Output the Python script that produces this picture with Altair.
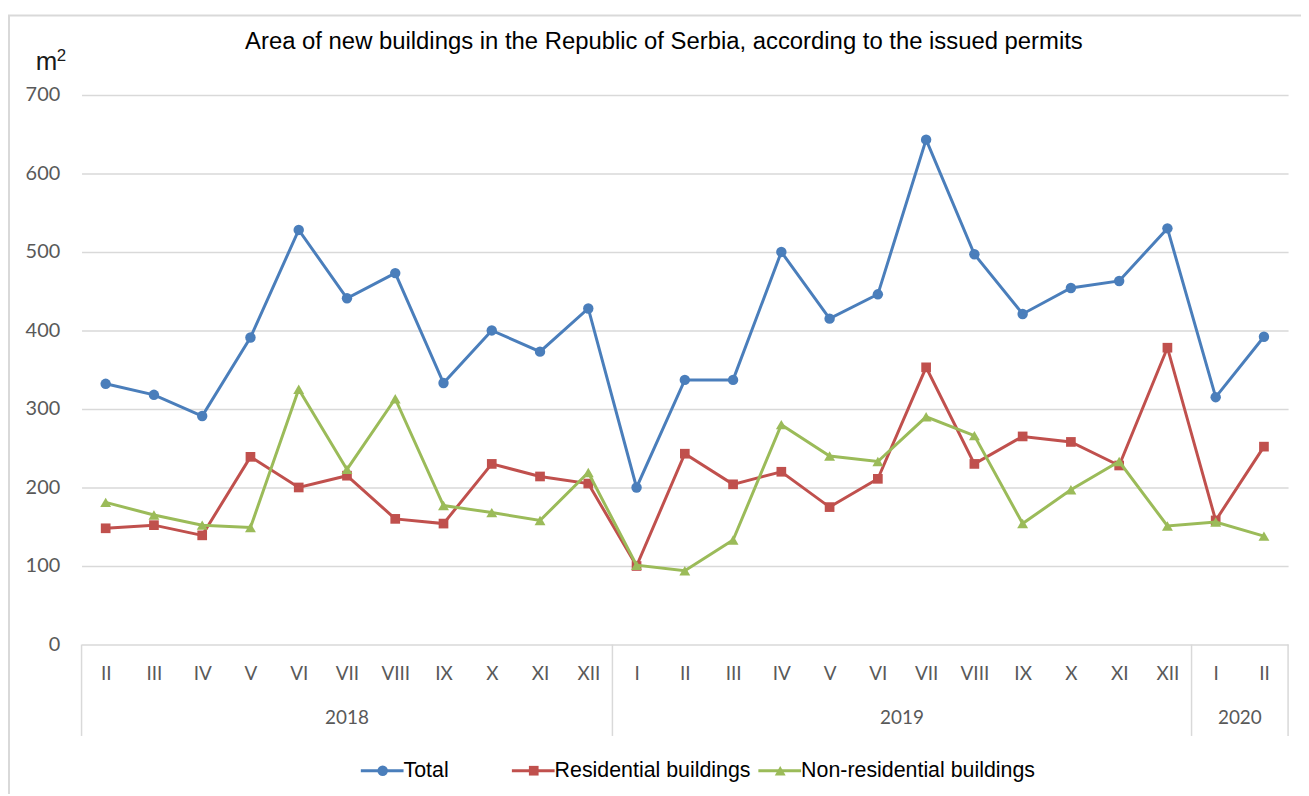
import altair as alt
import pandas as pd

# ---------------- data ----------------
months = ["II", "III", "IV", "V", "VI", "VII", "VIII", "IX", "X", "XI", "XII",
          "I", "II", "III", "IV", "V", "VI", "VII", "VIII", "IX", "X", "XI", "XII",
          "I", "II"]
years = ["2018"] * 11 + ["2019"] * 12 + ["2020"] * 2
series_names = ["Total", "Residential buildings", "Non-residential buildings"]
total = [332, 318, 291, 391, 528, 441, 473, 333, 400, 373, 428,
         200, 337, 337, 500, 415, 446, 643, 497, 421, 454, 463, 530,
         315, 392]
residential = [148, 152, 139, 239, 200, 215, 160, 154, 230, 214, 205,
               100, 243, 204, 220, 175, 211, 353, 230, 265, 258, 228, 378,
               158, 252]
non_residential = [181, 165, 152, 149, 325, 223, 313, 177, 168, 158, 219,
                   101, 94, 133, 280, 240, 233, 290, 266, 154, 197, 233, 151,
                   156, 138]
y_ticks = [0, 100, 200, 300, 400, 500, 600, 700]
title_text = "Area of new buildings in the Republic of Serbia, according to the issued permits"
unit_base = "m"
unit_sup = "2"

# ---------------- styles ----------------
colors = ["#4A7EBB", "#C0504D", "#9BBB59"]
shapes = ["circle", "square", "triangle-up"]
sizes = [110, 95, 120]
W, H = 1214, 553
FONT = "Liberation Sans"
LFONT = "Lato"
GRAY = "#595959"
GRID = "#D9D9D9"

rows = []
for s, vals in zip(series_names, [total, residential, non_residential]):
    for i, v in enumerate(vals):
        rows.append({"idx": i, "month": months[i], "year": years[i], "series": s, "value": v})
df = pd.DataFrame(rows)

label_expr = "[" + ",".join("'%s'" % m for m in months) + "][datum.value]"
x_scale = alt.Scale(domain=[-0.5, len(months) - 0.5], nice=False, zero=False)

x_enc = alt.X("idx:Q", scale=x_scale,
              axis=alt.Axis(values=list(range(len(months))), labelExpr=label_expr,
                            grid=False, ticks=False, domain=False, title=None,
                            labelFont=LFONT, labelFontSize=19, labelColor=GRAY,
                            labelPadding=20, labelFlush=False, labelOverlap=False))
y_enc = alt.Y("value:Q",
              scale=alt.Scale(domain=[0, 700], nice=False),
              axis=alt.Axis(values=y_ticks, grid=True, gridColor=GRID, gridWidth=1.5,
                            domain=False, ticks=False, title=None,
                            labelFont=LFONT, labelFontSize=20, labelColor=GRAY,
                            labelPadding=22))

one = pd.DataFrame({"k": [0]})

border = alt.Chart(one).mark_rect(fillOpacity=0, stroke=GRID, strokeWidth=2).encode(
    x=alt.value(-73), x2=alt.value(W + 60), y=alt.value(-80), y2=alt.value(H + 250))

base_axes = alt.Chart(df).mark_point(opacity=0).encode(x=x_enc, y=y_enc)

# year group labels and separators
ydf = df[df.series == series_names[0]].groupby("year", as_index=False).agg(
    center=("idx", "mean"), last=("idx", "max"))
sep_vals = [-0.5] + [v + 0.5 for v in ydf["last"].tolist()]
sep_df = pd.DataFrame({"b": sep_vals})

separators = alt.Chart(sep_df).mark_rule(color=GRID, strokeWidth=1.5).encode(
    x=alt.X("b:Q", scale=x_scale), y=alt.value(H), y2=alt.value(H + 92))

year_labels = alt.Chart(ydf).mark_text(font=LFONT, fontSize=19, color=GRAY,
                                        baseline="middle", align="center").encode(
    x=alt.X("center:Q", scale=x_scale), y=alt.value(H + 74), text="year:N")

title = alt.Chart(pd.DataFrame({"t": [title_text]})).mark_text(
    font=FONT, fontSize=24, color="#000000", align="center", baseline="middle").encode(
    x=alt.value(586), y=alt.value(-53), text="t:N")

unit_m = alt.Chart(pd.DataFrame({"t": [unit_base]})).mark_text(
    font=FONT, fontSize=26, color="#1a1a1a", align="left", baseline="alphabetic").encode(
    x=alt.value(-46), y=alt.value(-25), text="t:N")
unit_2 = alt.Chart(pd.DataFrame({"t": [unit_sup]})).mark_text(
    font=FONT, fontSize=17, color="#1a1a1a", align="left", baseline="alphabetic").encode(
    x=alt.value(-25), y=alt.value(-34), text="t:N")

layers = [border, base_axes, separators, year_labels, title, unit_m, unit_2]

for s, c, sh, sz in zip(series_names, colors, shapes, sizes):
    sdf = df[df.series == s]
    layers.append(alt.Chart(sdf).mark_line(color=c, strokeWidth=3).encode(x=x_enc, y=y_enc))
    layers.append(alt.Chart(sdf).mark_point(color=c, filled=True, opacity=1, shape=sh, size=sz)
                  .encode(x=x_enc, y=y_enc))

# legend (drawn manually to show line + marker symbols)
LY = 680
legend_x = [281, 433, 681]
for s, c, sh, sz, lx in zip(series_names, colors, shapes, sizes, legend_x):
    ldf = pd.DataFrame({"series": [s]})
    layers.append(alt.Chart(ldf).mark_rule(color=c, strokeWidth=3).encode(
        x=alt.value(lx), x2=alt.value(lx + 43), y=alt.value(LY)))
    layers.append(alt.Chart(ldf).mark_point(color=c, filled=True, opacity=1, shape=sh, size=sz).encode(
        x=alt.value(lx + 22), y=alt.value(LY)))
    layers.append(alt.Chart(ldf).mark_text(font=FONT, fontSize=21.5, color="#000000",
                                           align="left", baseline="middle").encode(
        x=alt.value(lx + 43), y=alt.value(LY), text="series:N"))

chart = alt.layer(*layers).properties(
    width=W, height=H,
    autosize=alt.AutoSizeParams(type="none"),
    padding={"left": 74, "top": 85, "right": 13, "bottom": 148},
).configure_view(stroke=None)

chart.save("out.html", embed_options={"renderer": "svg", "actions": False})
